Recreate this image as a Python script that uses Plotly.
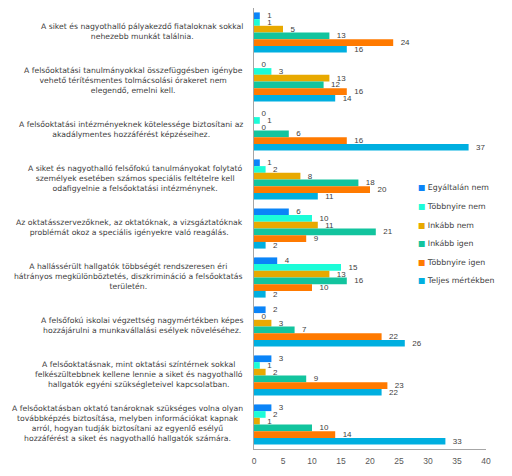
import plotly.graph_objects as go

categories = [
    "A siket és nagyothalló pályakezdő fiataloknak sokkal<br>nehezebb munkát találnia.",
    "A felsőoktatási tanulmányokkal összefüggésben igénybe<br>vehető térítésmentes tolmácsolási órakeret nem<br>elegendő, emelni kell.",
    "A felsőoktatási intézményeknek kötelessége biztosítani az<br>akadálymentes hozzáférést képzéseihez.",
    "A siket és nagyothalló felsőfokú tanulmányokat folytató<br>személyek esetében számos speciális feltételre kell<br>odafigyelnie a felsőoktatási intézménynek.",
    "Az oktatásszervezőknek, az oktatóknak, a vizsgáztatóknak<br>problémát okoz a speciális igényekre való reagálás.",
    "A hallássérült hallgatók többségét rendszeresen éri<br>hátrányos megkülönböztetés, diszkrimináció a felsőoktatás<br>területén.",
    "A felsőfokú iskolai végzettség nagymértékben képes<br>hozzájárulni a munkavállalási esélyek növeléséhez.",
    "A felsőoktatásnak, mint oktatási színtérnek sokkal<br>felkészültebbnek kellene lennie a siket és nagyothalló<br>hallgatók egyéni szükségleteivel kapcsolatban.",
    "A felsőoktatásban oktató tanároknak szükséges volna olyan<br>továbbképzés biztosítása, melyben információkat kapnak<br>arról, hogyan tudják biztosítani az egyenlő esélyű<br>hozzáférést a siket és nagyothalló hallgatók számára.",
]

series_names = ["Egyáltalán nem", "Többnyire nem", "Inkább nem", "Inkább igen", "Többnyire igen", "Teljes mértékben"]

egyaltalan_nem = [1, 0, 0, 1, 6, 4, 2, 3, 3]
tobbnyire_nem = [1, 3, 1, 2, 10, 15, 0, 1, 2]
inkabb_nem = [5, 13, 0, 8, 11, 13, 3, 2, 1]
inkabb_igen = [13, 12, 6, 18, 21, 16, 7, 9, 10]
tobbnyire_igen = [24, 16, 16, 20, 9, 10, 22, 23, 14]
teljes_mertekben = [16, 14, 37, 11, 2, 2, 26, 22, 33]

series_values = [egyaltalan_nem, tobbnyire_nem, inkabb_nem, inkabb_igen, tobbnyire_igen, teljes_mertekben]
colors = ["#0A84F8", "#1CFCD8", "#E8A900", "#12C49E", "#FF7A00", "#00AFE0"]

x_ticks = [0, 5, 10, 15, 20, 25, 30, 35, 40]

cat_ids = list(range(len(categories)))

fig = go.Figure()
for name, vals, col in zip(series_names, series_values, colors):
    fig.add_trace(go.Bar(
        name=name, y=cat_ids, x=vals, orientation="h",
        marker=dict(color=col, line=dict(width=0)),
        text=["\u00a0\u00a0" + str(v) for v in vals], textposition="outside",
        textfont=dict(family="Liberation Sans", size=8, color="#404040"),
        constraintext="none", cliponaxis=False, showlegend=False,
    ))

annotations = []
for i, c in enumerate(categories):
    annotations.append(dict(
        x=0, xref="paper", xanchor="right", xshift=-9,
        y=i, yref="y", yanchor="middle", yshift=1,
        text=c, showarrow=False, align="center",
        font=dict(family="DejaVu Sans", size=7.7, color="#404040"),
    ))

for i, (name, col) in enumerate(zip(series_names, colors)):
    annotations.append(dict(
        x=0.70, xref="paper", xanchor="left",
        y=0.592 - i * 0.0422, yref="paper", yanchor="middle",
        text=f'<span style="color:{col}">■</span> {name}', showarrow=False, align="left",
        font=dict(family="DejaVu Sans", size=7.8, color="#404040"),
    ))

fig.update_layout(
    width=512, height=476,
    margin=dict(l=254, r=26, t=8, b=27),
    paper_bgcolor="white", plot_bgcolor="white",
    barmode="group", bargap=0.18, bargroupgap=0,
    annotations=annotations,
    xaxis=dict(range=[0, 40], tickvals=x_ticks, showgrid=False, zeroline=False,
               showline=True, linecolor="#A6A6A6", linewidth=1, ticks="",
               ticklabelstandoff=4,
               tickfont=dict(family="Liberation Sans", size=8.5, color="#595959")),
    yaxis=dict(tickvals=cat_ids, autorange="reversed", showticklabels=False,
               showgrid=False, zeroline=False, showline=True, linecolor="#A6A6A6",
               linewidth=1, ticks=""),
)

fig.write_html("out.html", config={"displayModeBar": False},
               post_script="document.body.style.margin='0';")
